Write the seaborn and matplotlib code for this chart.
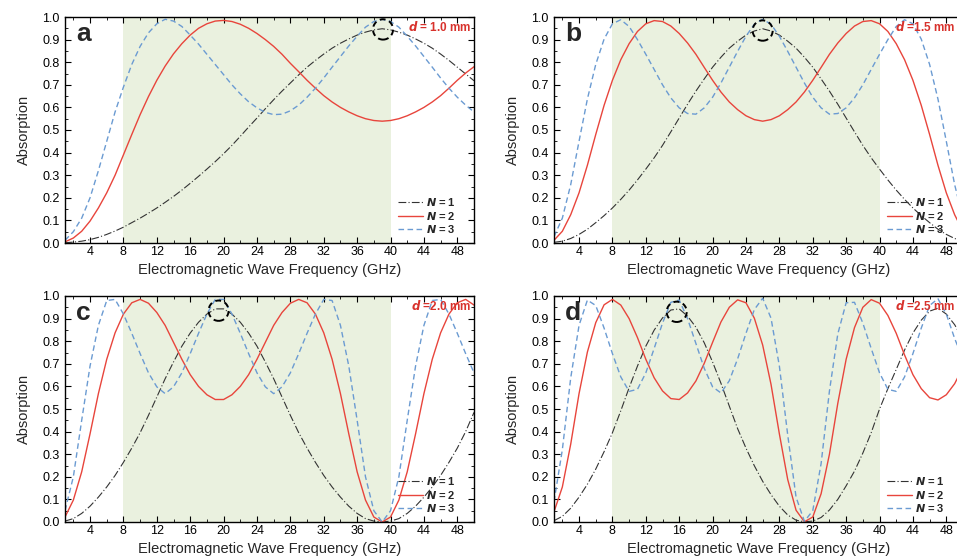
import numpy as np
import seaborn as sns
import matplotlib.pyplot as plt
from matplotlib.patches import Ellipse
from matplotlib.ticker import MultipleLocator

# ---- DATA (1 GHz steps) ----
freq = np.arange(1, 51)

# panel a, d = 1.0 mm
a_n1 = [0.001, 0.004, 0.008, 0.015, 0.025, 0.038, 0.053, 0.070, 0.090, 0.110,
        0.132, 0.155, 0.180, 0.206, 0.234, 0.264, 0.295, 0.327, 0.360, 0.395,
        0.432, 0.472, 0.513, 0.553, 0.594, 0.634, 0.672, 0.708, 0.744, 0.778,
        0.808, 0.836, 0.862, 0.884, 0.903, 0.920, 0.933, 0.943, 0.948, 0.943,
        0.933, 0.920, 0.903, 0.884, 0.862, 0.836, 0.808, 0.778, 0.748, 0.718]
a_n2 = [0.005, 0.022, 0.052, 0.097, 0.155, 0.222, 0.300, 0.390, 0.480, 0.568,
        0.648, 0.720, 0.783, 0.837, 0.882, 0.920, 0.950, 0.970, 0.982, 0.985,
        0.980, 0.968, 0.950, 0.927, 0.900, 0.870, 0.835, 0.795, 0.758, 0.720,
        0.685, 0.652, 0.624, 0.600, 0.580, 0.563, 0.550, 0.542, 0.539, 0.542,
        0.550, 0.563, 0.580, 0.600, 0.624, 0.652, 0.685, 0.720, 0.752, 0.780]
a_n3 = [0.012, 0.050, 0.110, 0.200, 0.320, 0.450, 0.580, 0.690, 0.790, 0.870,
        0.930, 0.970, 0.990, 0.982, 0.958, 0.920, 0.880, 0.835, 0.790, 0.745,
        0.700, 0.660, 0.625, 0.598, 0.578, 0.568, 0.570, 0.585, 0.610, 0.645,
        0.685, 0.730, 0.778, 0.825, 0.872, 0.915, 0.955, 0.980, 0.990, 0.980,
        0.955, 0.915, 0.872, 0.825, 0.778, 0.730, 0.685, 0.645, 0.610, 0.580]

# panel b, d = 1.5 mm
b_n1 = [0.003, 0.008, 0.020, 0.038, 0.061, 0.090, 0.121, 0.155, 0.193, 0.234,
        0.279, 0.327, 0.377, 0.432, 0.492, 0.553, 0.614, 0.672, 0.726, 0.778,
        0.822, 0.862, 0.893, 0.920, 0.938, 0.948, 0.938, 0.920, 0.893, 0.862,
        0.822, 0.778, 0.726, 0.672, 0.614, 0.553, 0.492, 0.432, 0.377, 0.327,
        0.279, 0.234, 0.193, 0.155, 0.121, 0.090, 0.061, 0.038, 0.020, 0.008]
b_n2 = [0.012, 0.052, 0.125, 0.222, 0.344, 0.480, 0.609, 0.720, 0.811, 0.882,
        0.936, 0.970, 0.984, 0.980, 0.960, 0.927, 0.885, 0.835, 0.777, 0.720,
        0.668, 0.624, 0.590, 0.563, 0.546, 0.539, 0.546, 0.563, 0.590, 0.624,
        0.668, 0.720, 0.777, 0.835, 0.885, 0.927, 0.960, 0.980, 0.984, 0.970,
        0.936, 0.882, 0.811, 0.720, 0.609, 0.480, 0.344, 0.222, 0.125, 0.052]
b_n3 = [0.028, 0.110, 0.258, 0.450, 0.637, 0.790, 0.902, 0.970, 0.988, 0.958,
        0.900, 0.835, 0.768, 0.700, 0.642, 0.598, 0.573, 0.570, 0.598, 0.645,
        0.708, 0.778, 0.848, 0.915, 0.968, 0.990, 0.968, 0.915, 0.848, 0.778,
        0.708, 0.645, 0.598, 0.570, 0.573, 0.598, 0.642, 0.700, 0.768, 0.835,
        0.900, 0.958, 0.988, 0.970, 0.902, 0.790, 0.637, 0.450, 0.258, 0.110]

# panel c, d = 2.0 mm
c_n1 = [0.004, 0.015, 0.038, 0.070, 0.110, 0.155, 0.206, 0.264, 0.327, 0.395,
        0.472, 0.553, 0.634, 0.708, 0.778, 0.836, 0.884, 0.920, 0.943, 0.943,
        0.920, 0.884, 0.836, 0.778, 0.708, 0.634, 0.553, 0.472, 0.395, 0.327,
        0.264, 0.206, 0.155, 0.110, 0.070, 0.038, 0.015, 0.004, 0.000, 0.004,
        0.015, 0.038, 0.070, 0.110, 0.155, 0.206, 0.264, 0.327, 0.400, 0.485]
c_n2 = [0.022, 0.097, 0.222, 0.390, 0.568, 0.720, 0.837, 0.920, 0.970, 0.985,
        0.968, 0.927, 0.870, 0.795, 0.720, 0.652, 0.600, 0.563, 0.542, 0.542,
        0.563, 0.600, 0.652, 0.720, 0.795, 0.870, 0.927, 0.968, 0.985, 0.970,
        0.920, 0.837, 0.720, 0.568, 0.390, 0.222, 0.097, 0.022, 0.000, 0.022,
        0.097, 0.222, 0.390, 0.568, 0.720, 0.837, 0.920, 0.970, 0.985, 0.960]
c_n3 = [0.050, 0.200, 0.450, 0.690, 0.870, 0.980, 0.985, 0.920, 0.835, 0.745,
        0.660, 0.598, 0.568, 0.598, 0.660, 0.745, 0.835, 0.920, 0.985, 0.985,
        0.920, 0.835, 0.745, 0.660, 0.598, 0.568, 0.598, 0.660, 0.745, 0.835,
        0.920, 0.985, 0.980, 0.870, 0.690, 0.450, 0.200, 0.050, 0.000, 0.050,
        0.200, 0.450, 0.690, 0.870, 0.980, 0.985, 0.920, 0.835, 0.745, 0.660]

# panel d, d = 2.5 mm
d_n1 = [0.006, 0.025, 0.061, 0.110, 0.167, 0.234, 0.311, 0.395, 0.492, 0.594,
        0.690, 0.778, 0.849, 0.903, 0.938, 0.943, 0.911, 0.862, 0.793, 0.708,
        0.614, 0.513, 0.413, 0.327, 0.249, 0.180, 0.121, 0.070, 0.031, 0.008,
        0.001, 0.004, 0.020, 0.053, 0.100, 0.160, 0.225, 0.305, 0.395, 0.500,
        0.590, 0.675, 0.761, 0.836, 0.893, 0.933, 0.946, 0.920, 0.873, 0.808]
d_n2 = [0.045, 0.155, 0.344, 0.568, 0.752, 0.882, 0.961, 0.985, 0.960, 0.900,
        0.816, 0.720, 0.638, 0.580, 0.546, 0.542, 0.571, 0.624, 0.702, 0.795,
        0.885, 0.950, 0.983, 0.970, 0.902, 0.783, 0.609, 0.390, 0.188, 0.052,
        0.001, 0.022, 0.125, 0.300, 0.525, 0.720, 0.860, 0.950, 0.984, 0.968,
        0.914, 0.835, 0.739, 0.652, 0.590, 0.550, 0.540, 0.563, 0.612, 0.685]
d_n3 = [0.090, 0.320, 0.637, 0.870, 0.982, 0.958, 0.858, 0.745, 0.642, 0.578,
        0.587, 0.660, 0.768, 0.880, 0.972, 0.982, 0.900, 0.790, 0.680, 0.598,
        0.571, 0.625, 0.722, 0.835, 0.940, 0.990, 0.902, 0.690, 0.385, 0.110,
        0.003, 0.050, 0.258, 0.580, 0.832, 0.970, 0.972, 0.880, 0.768, 0.660,
        0.587, 0.578, 0.642, 0.745, 0.858, 0.958, 0.988, 0.920, 0.812, 0.720]

panel_letters = ["a", "b", "c", "d"]
thickness_labels = ["= 1.0 mm", "=1.5 mm", "=2.0 mm", "=2.5 mm"]
circle_freq = [39.1, 26.0, 19.4, 15.7]
circle_abs = [0.945, 0.94, 0.935, 0.93]
series_labels = [r"$\mathbfit{N}$ = 1", r"$\mathbfit{N}$ = 2", r"$\mathbfit{N}$ = 3"]
band = (8, 40)

panel_data = [(a_n1, a_n2, a_n3), (b_n1, b_n2, b_n3),
              (c_n1, c_n2, c_n3), (d_n1, d_n2, d_n3)]

# ---- STYLE ----
sns.set_theme(style="ticks")
plt.rcParams["font.family"] = ["Liberation Sans", "DejaVu Sans"]
plt.rcParams["mathtext.fontset"] = "dejavusans"

line_colors = ["#333333", "#e8453c", "#6b9bd2"]
line_styles = [(0, (7, 2, 1, 2)), "-", (0, (4, 2.5))]
line_widths = [0.8, 1.0, 1.0]
green = "#eaf1df"
red_text = "#d8322c"

W, H = 957, 557
fig = plt.figure(figsize=(W / 100, H / 100), dpi=100)

# axes boxes in pixels: left, top
boxes = [(65, 17), (554, 17), (65, 296), (554, 296)]
aw, ah = 409, 226

for i, (left, top) in enumerate(boxes):
    ax = fig.add_axes([left / W, 1 - (top + ah) / H, aw / W, ah / H])
    ax.axvspan(*band, color=green, lw=0, zorder=0)

    for k in range(3):
        sns.lineplot(x=freq, y=panel_data[i][k], ax=ax, color=line_colors[k],
                     linestyle=line_styles[k], lw=line_widths[k],
                     label=series_labels[k])

    ax.set_xlim(1, 50)
    ax.set_ylim(0, 1.0)
    ax.set_xticks(np.arange(4, 49, 4))
    ax.xaxis.set_minor_locator(MultipleLocator(2))
    ax.set_yticks(np.round(np.arange(0, 1.01, 0.1), 1))
    ax.set_yticklabels([f"{v:.1f}" for v in np.arange(0, 1.01, 0.1)])
    ax.yaxis.set_minor_locator(MultipleLocator(0.05))
    ax.tick_params(which="both", direction="in", top=True, right=True,
                   colors="black", labelsize=9)
    ax.tick_params(which="major", length=4, width=0.8)
    ax.tick_params(which="minor", length=2, width=0.6)
    ax.tick_params(axis="x", pad=2)
    ax.tick_params(axis="y", pad=4)
    for s in ax.spines.values():
        s.set_linewidth(1.0)
        s.set_color("black")

    ax.set_xlabel("Electromagnetic Wave Frequency (GHz)", fontsize=10.5, labelpad=4)
    ax.set_ylabel("Absorption", fontsize=10.5, labelpad=8)

    ax.text(0.027, 0.895, panel_letters[i], transform=ax.transAxes,
            fontsize=19, fontweight="bold", ha="left", va="baseline")
    xr = 0.993 if i in (0, 2) else 0.982
    ax.text(xr, 0.94, r"$\mathbfit{d}$ " + thickness_labels[i],
            transform=ax.transAxes, fontsize=8.5, fontweight="bold",
            color=red_text, ha="right", va="baseline")

    ax.add_patch(Ellipse((circle_freq[i], circle_abs[i]), width=2.4, height=0.09,
                         fill=False, edgecolor="black", lw=1.4,
                         linestyle=(0, (3, 2)), zorder=5))

    ax.legend(loc="lower right", bbox_to_anchor=(0.975, 0.0), frameon=False,
              prop={"size": 8, "weight": "bold"}, handlelength=2.2,
              handletextpad=0.3, labelspacing=0.15, borderaxespad=0.3)

fig.savefig("out.png", dpi=100)
